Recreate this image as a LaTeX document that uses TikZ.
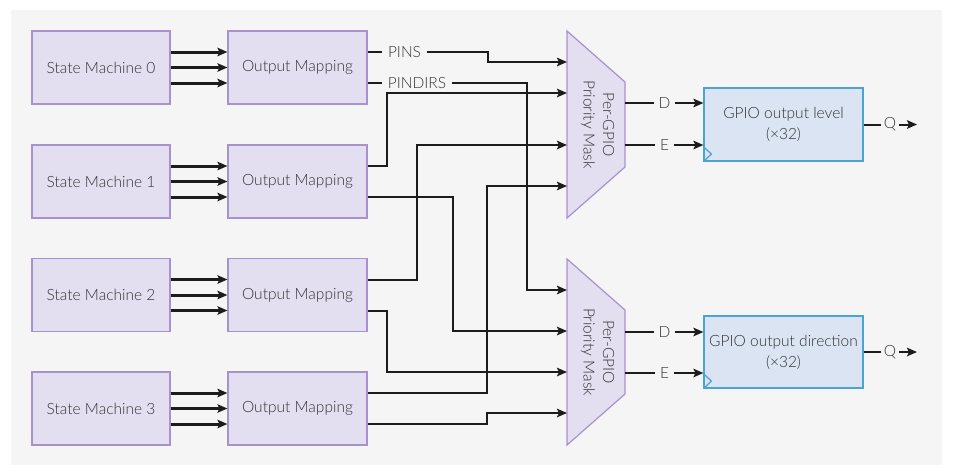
\documentclass[tikz,border=0pt]{standalone}
\usepackage{fontspec}
\setmainfont{Lato Light}
\usetikzlibrary{arrows.meta}
\definecolor{bg}{HTML}{F5F5F5}
\definecolor{pfill}{HTML}{E3DEF0}
\definecolor{pdraw}{HTML}{A892CC}
\definecolor{bfill}{HTML}{DAE4F2}
\definecolor{bdraw}{HTML}{4BA3D5}
\definecolor{ink}{HTML}{1C1C1C}
\definecolor{txt}{HTML}{333333}
\begin{document}
\begin{tikzpicture}[x=1pt,y=-1pt,
  font=\fontsize{15.5}{21}\selectfont, text=txt,
  pbox/.style={draw=pdraw, fill=pfill, line width=1.2pt, inner sep=0pt, minimum width=138pt, minimum height=73pt},
  gbox/.style={draw=bdraw, fill=bfill, line width=1.2pt, inner sep=0pt, minimum width=159pt, minimum height=73pt, align=center},
  trap/.style={draw=pdraw, fill=pfill, line width=1.2pt, line join=miter},
  fat/.style={draw=ink, line width=3pt, -{Stealth[length=10pt,width=8.5pt,inset=2pt]}},
  wire/.style={draw=ink, line width=2pt, line join=miter},
  warrow/.style={wire, -{Stealth[length=10pt,width=8.5pt,inset=2pt]}},
  lbl/.style={inner sep=0pt, outer sep=6pt},
]
\useasboundingbox (0,0) rectangle (955,475);
\fill[bg] (11,10) rectangle (942,465);

% state machines and output mappings
\node[pbox] (sm0) at (101,67.5) {State Machine 0};
\node[pbox] (sm1) at (101,181.5) {State Machine 1};
\node[pbox] (sm2) at (101,295) {State Machine 2};
\node[pbox] (sm3) at (101,408.5) {State Machine 3};
\node[pbox, minimum width=139pt] (om0) at (297.5,67.5) {Output Mapping};
\node[pbox, minimum width=139pt] (om1) at (297.5,181.5) {Output Mapping};
\node[pbox, minimum width=139pt] (om2) at (297.5,295) {Output Mapping};
\node[pbox, minimum width=139pt] (om3) at (297.5,408.5) {Output Mapping};

\foreach \i in {0,1,2,3}{
  \foreach \s in {15.5,0,-15.5}{
    \draw[fat] ([yshift=\s pt]sm\i.east) -- ([yshift=\s pt]om\i.west);
  }
  \coordinate (o\i a) at ([yshift=15.5pt]om\i.east);
  \coordinate (o\i b) at ([yshift=-15.5pt]om\i.east);
}

% priority masks
\path[trap] (567,31) -- (625,82) -- (625,167) -- (567,218) -- cycle;
\path[trap] (567,259) -- (625,310) -- (625,394) -- (567,445) -- cycle;
\node[rotate=-90, align=center, font=\fontsize{15.5}{19.5}\selectfont] (mT) at (597.5,124.5) {Per-GPIO\\Priority Mask};
\node[rotate=-90, align=center, font=\fontsize{15.5}{19.5}\selectfont] (mB) at (597.5,352) {Per-GPIO\\Priority Mask};
\coordinate (tT1) at (567,62);
\coordinate (tT2) at (567,93);
\coordinate (tT3) at (567,145);
\coordinate (tT4) at (567,186);
\coordinate (tB1) at (567,290);
\coordinate (tB2) at (567,331);
\coordinate (tB3) at (567,372);
\coordinate (tB4) at (567,413);
\coordinate (rT1) at (625,103);
\coordinate (rT2) at (625,145);
\coordinate (rB1) at (625,332);
\coordinate (rB2) at (625,373);

% PINS / PINDIRS labels
\node[lbl] (pins) at (404.5,52) {PINS};
\node[lbl] (pindirs) at (417,83) {PINDIRS};
\draw[wire] (o0a) -- (pins.west);
\draw[wire] (o0b) -- (pindirs.west);

% routing
\draw[warrow] (pins.east) -| (488,62) -- (tT1);
\draw[warrow] (pindirs.east) -| (527,290) -- (tB1);
\draw[warrow] (o1a) -| (387,93) -- (tT2);
\draw[warrow] (o1b) -| (453,331) -- (tB2);
\draw[warrow] (o2a) -| (417,145) -- (tT3);
\draw[warrow] (o2b) -| (387,372) -- (tB3);
\draw[warrow] (o3a) -| (487,186) -- (tT4);
\draw[warrow] (o3b) -| (487,413) -- (tB4);

% GPIO registers
\node[gbox] (g1) at (783.5,124.5) {GPIO output level\\(×32)};
\node[gbox, minimum height=72pt] (g2) at (783.5,352) {GPIO output direction\\(×32)};
\draw[bdraw, line width=1.2pt] ([yshift=15pt]g1.south west) -- ++(8,7.5) -- (g1.south west);
\draw[bdraw, line width=1.2pt] ([yshift=15pt]g2.south west) -- ++(8,7.5) -- (g2.south west);

\node[lbl, outer sep=5pt] (dT) at (664.5,103) {D};
\node[lbl, outer sep=5pt] (eT) at (664.5,145) {E};
\node[lbl, outer sep=5pt] (dB) at (664.5,332) {D};
\node[lbl, outer sep=5pt] (eB) at (664.5,373) {E};
\draw[wire] (rT1) -- (dT.west);
\draw[wire] (rT2) -- (eT.west);
\draw[wire] (rB1) -- (dB.west);
\draw[wire] (rB2) -- (eB.west);
\draw[warrow] (dT.east) -- (dT.east -| g1.west);
\draw[warrow] (eT.east) -- (eT.east -| g1.west);
\draw[warrow] (dB.east) -- (dB.east -| g2.west);
\draw[warrow] (eB.east) -- (eB.east -| g2.west);

% Q outputs
\node[lbl, outer sep=3pt] (q1) at (890,124.5) {Q};
\node[lbl, outer sep=3pt] (q2) at (890,352) {Q};
\coordinate (q1end) at (917,124.5);
\coordinate (q2end) at (917,352);
\draw[wire] (g1.east) -- (q1.west);
\draw[wire] (g2.east) -- (q2.west);
\draw[warrow] (q1.east) -- (q1end);
\draw[warrow] (q2.east) -- (q2end);
\end{tikzpicture}
\end{document}
